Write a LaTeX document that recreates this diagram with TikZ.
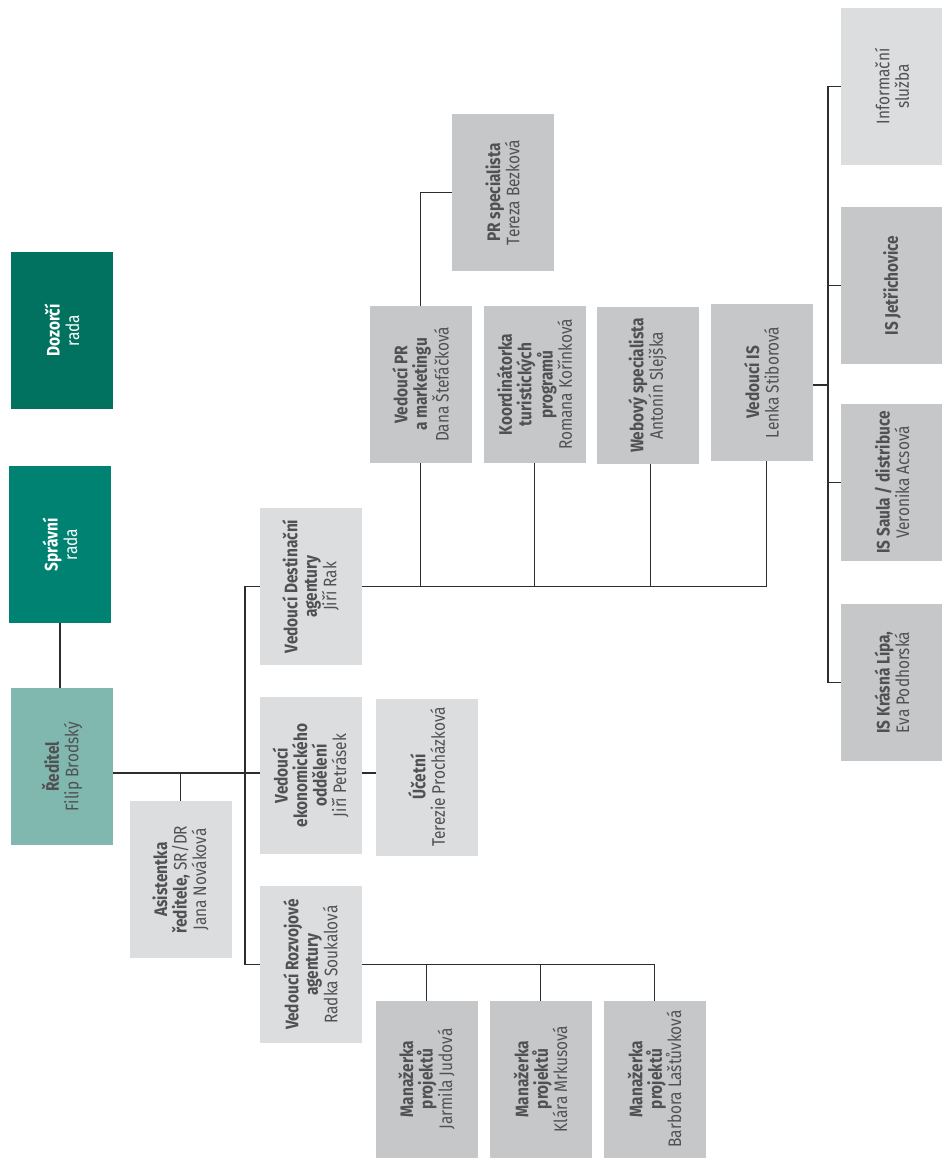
\documentclass[tikz,border=0pt]{standalone}
\usepackage{fontspec}
\setmainfont[FakeStretch=0.85]{Fira Sans}
\usepackage{tikz}
\usepackage{xcolor}
\usetikzlibrary{backgrounds}
\definecolor{orgdark}{RGB}{0,114,95}
\definecolor{orggreen}{RGB}{0,130,114}
\definecolor{orgteal}{RGB}{128,184,175}
\definecolor{orglight}{RGB}{220,221,222}
\definecolor{orggrey}{RGB}{198,199,200}
\definecolor{orgtext}{RGB}{80,81,83}
\definecolor{orgline}{RGB}{45,45,45}

\begin{document}
\begin{tikzpicture}[x=0.75pt, y=-0.75pt]
  \tikzstyle{mybox}=[rectangle, rotate=90, inner sep=0pt, minimum width=117.75pt,
    minimum height=76.5pt, align=center, text=orgtext,
    font=\fontsize{13.6}{14.6}\selectfont];
  \tikzstyle{lightbox}=[mybox, fill=orglight];
  \tikzstyle{greybox}=[mybox, fill=orggrey];
  \tikzstyle{myconn}=[orgline, line width=0.9pt];
  \useasboundingbox (0, 0) rectangle (942, 1158);
  %
  % boards and director
  \node[mybox, fill=orgdark, text=white] (dozorci) at (62, 330.5)
    {\textbf{Dozorčí}\\rada};
  \node[mybox, fill=orggreen, text=white] (spravni) at (60, 544.5)
    {\textbf{Správní}\\rada};
  \node[mybox, fill=orgteal] (reditel) at (62, 766.5)
    {\textbf{Ředitel}\\Filip Brodský};
  \node[lightbox] (asist) at (180.5, 879.5)
    {\textbf{Asistentka}\\\textbf{ředitele,} SR/DR\\Jana Nováková};
  %
  % heads of departments
  \node[lightbox] (dest) at (310.5, 586.5)
    {\textbf{Vedoucí Destinační}\\\textbf{agentury}\\Jiří Rak};
  \node[lightbox] (ekon) at (310.5, 775.5)
    {\textbf{Vedoucí}\\\textbf{ekonomického}\\\textbf{oddělení}\\Jiří Petrásek};
  \node[lightbox] (ucetni) at (426.5, 777)
    {\textbf{Účetní}\\Terezie Procházková};
  \node[lightbox] (rozvoj) at (310.5, 964.5)
    {\textbf{Vedoucí Rozvojové}\\\textbf{agentury}\\Radka Soukalová};
  %
  % project managers
  \node[greybox] (man1) at (426.5, 1079)
    {\textbf{Manažerka}\\\textbf{projektů}\\Jarmila Judová};
  \node[greybox] (man2) at (540.5, 1079)
    {\textbf{Manažerka}\\\textbf{projektů}\\Klára Mrkusová};
  \node[greybox] (man3) at (654.5, 1079)
    {\textbf{Manažerka}\\\textbf{projektů}\\Barbora Laštůvková};
  %
  % destination agency
  \node[greybox] (prspec) at (502.5, 192.5)
    {\textbf{PR specialista}\\Tereza Bezková};
  \node[greybox] (vedpr) at (420.5, 384.5)
    {\textbf{Vedoucí PR}\\\textbf{a marketingu}\\Dana Štefáčková};
  \node[greybox] (koord) at (534.5, 384.5)
    {\textbf{Koordinátorka}\\\textbf{turistických}\\\textbf{programů}\\Romana Kořínková};
  \node[greybox] (web) at (647.5, 385.5)
    {\textbf{Webový specialista}\\Antonín Slejška};
  \node[greybox] (vedis) at (761.5, 382.5)
    {\textbf{Vedoucí IS}\\Lenka Stiborová};
  %
  % information centres
  \node[lightbox] (info) at (892, 86.5) {Informační\\služba};
  \node[greybox] (jetr) at (892, 285.5) {\textbf{IS Jetřichovice}};
  \node[greybox] (saula) at (892, 482.5)
    {\textbf{IS Saula / distribuce}\\Veronika Acsová};
  \node[greybox] (lipa) at (892, 682.5)
    {\textbf{IS Krásná Lípa,}\\Eva Podhorská};
  %
  \coordinate (hub) at (245, 773);
  \coordinate (isbus) at (828, 385);
  %
  % connectors
  \begin{pgfonlayer}{background}
    \draw[myconn] (spravni.center) -- (spravni.center |- reditel.center);
    \draw[myconn] (reditel.center |- hub) -- (ucetni.center |- hub);
    \draw[myconn] (asist.center) -- (asist.center |- hub);
    \draw[myconn] (dest.center) -| (hub) |- (rozvoj.center);
    %
    \draw[myconn] (dest.center) -| ([xshift=3.5pt]vedis.center);
    \draw[myconn] (vedpr.center) -- (vedpr.center |- dest.center);
    \draw[myconn] (koord.center) -- (koord.center |- dest.center);
    \draw[myconn] ([xshift=2.5pt]web.center) -- ([xshift=2.5pt]web.center |- dest.center);
    \draw[myconn] (vedpr.center) |- (prspec.center);
    %
    \draw[myconn] (vedis.center |- isbus) -- (isbus);
    \draw[myconn] (info.center) -| (isbus) |- (lipa.center);
    \draw[myconn] (jetr.center) -- (jetr.center -| isbus);
    \draw[myconn] (saula.center) -- (saula.center -| isbus);
    %
    \draw[myconn] (rozvoj.center) -| (man3.center);
    \draw[myconn] (man1.center) -- (man1.center |- rozvoj.center);
    \draw[myconn] (man2.center) -- (man2.center |- rozvoj.center);
  \end{pgfonlayer}
\end{tikzpicture}
\end{document}
